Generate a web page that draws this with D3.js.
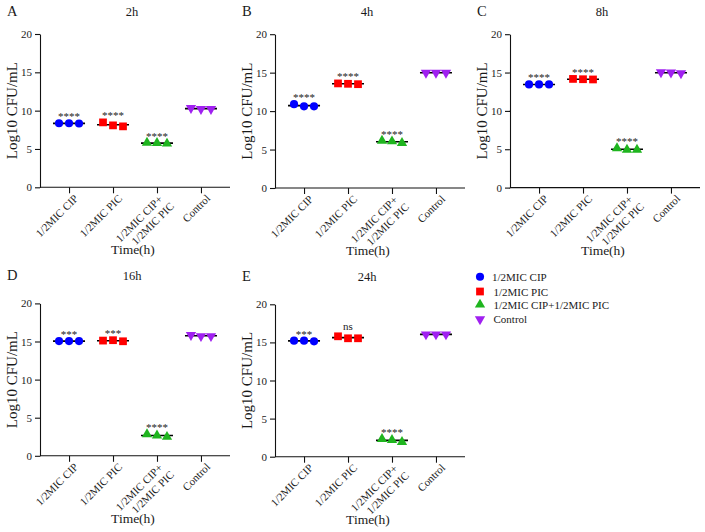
<!DOCTYPE html>
<html>
<head>
<meta charset="utf-8">
<script src="https://cdn.jsdelivr.net/npm/d3@7"></script>
<style>
  html, body { margin: 0; padding: 0; background: #fff; }
  svg text { font-family: "Liberation Serif", "Times New Roman", serif; fill: #1a1a1a; }
</style>
</head>
<body>
<svg id="chart" width="705" height="532"></svg>
<script>
// ---------- data ----------
const categories = ["1/2MIC CIP", "1/2MIC PIC", "1/2MIC CIP+1/2MIC PIC", "Control"];
const tickLabels = [["1/2MIC CIP"], ["1/2MIC PIC"], ["1/2MIC CIP+", "1/2MIC PIC"], ["Control"]];
const panelLetters = ["A", "B", "C", "D", "E"];
const panelTitles = ["2h", "4h", "8h", "16h", "24h"];
const yTicks = [0, 5, 10, 15, 20];

// replicate values (Log10 CFU/mL) per category, per time point
const values2h  = [[8.35, 8.35, 8.33], [8.47, 8.08, 7.95], [5.82, 5.78, 5.70], [10.35, 10.22, 10.22]];
const values4h  = [[10.90, 10.62, 10.62], [13.60, 13.55, 13.50], [6.15, 6.06, 5.86], [14.98, 14.98, 14.98]];
const values8h  = [[13.45, 13.45, 13.45], [14.17, 14.13, 14.10], [5.13, 4.93, 4.93], [15.04, 15.00, 14.90]];
const values16h = [[15.05, 15.05, 15.05], [15.12, 15.17, 15.03], [2.84, 2.67, 2.49], [15.84, 15.70, 15.70]];
const values24h = [[15.23, 15.23, 15.14], [15.80, 15.54, 15.54], [2.32, 2.19, 1.93], [16.05, 16.05, 16.05]];
const panelValues = [values2h, values4h, values8h, values16h, values24h];

const sig2h  = ["****", "****", "****", ""];
const sig4h  = ["****", "****", "****", ""];
const sig8h  = ["****", "****", "****", ""];
const sig16h = ["***", "***", "****", ""];
const sig24h = ["***", "ns", "****", ""];
const panelSig = [sig2h, sig4h, sig8h, sig16h, sig24h];

const seriesColors = ["#0000ff", "#ff0000", "#1fb51f", "#a020f0"];
const seriesSymbols = [d3.symbolCircle, d3.symbolSquare, d3.symbolTriangle, d3.symbolTriangle];
const seriesRotate = [0, 0, 0, 180];
const seriesSizes = [52, 60, 46, 46];

// ---------- layout ----------
const panelFrames = [
  { x0: 40,  x1: 230, yTop: 34,    yBot: 187.3, titleGap: 18 },
  { x0: 275, x1: 465, yTop: 34.2,  yBot: 188,   titleGap: 18 },
  { x0: 510, x1: 700, yTop: 34.2,  yBot: 187.6, titleGap: 18 },
  { x0: 40,  x1: 230, yTop: 303.4, yBot: 455.8, titleGap: 23 },
  { x0: 275, x1: 465, yTop: 304.3, yBot: 456.7, titleGap: 23 }
];

const svg = d3.select("#chart");

panelFrames.forEach((f, pi) => {
  const g = svg.append("g");
  const x = d3.scalePoint().domain(categories).range([f.x0, f.x1]).padding(0.66);
  const y = d3.scaleLinear().domain([0, 20]).range([f.yBot, f.yTop]);

  // y axis
  const yAxis = d3.axisLeft(y).tickValues(yTicks).tickSize(5).tickSizeOuter(0).tickPadding(3);
  const ya = g.append("g").attr("transform", `translate(${f.x0},0)`).call(yAxis);
  ya.attr("font-family", null).attr("font-size", null);
  ya.selectAll("text").style("font-size", "11px").attr("fill", "#1a1a1a");
  ya.selectAll("path,line").attr("stroke", "#111").attr("stroke-width", 1.1);

  // x axis
  const xAxis = d3.axisBottom(x).tickSize(6).tickSizeOuter(0).tickFormat(() => "");
  const xa = g.append("g").attr("transform", `translate(0,${f.yBot})`).call(xAxis);
  xa.selectAll("path,line").attr("stroke", "#111").attr("stroke-width", 1.1);
  xa.select("path.domain").attr("d", `M${f.x0},0H${f.x1}`);

  // rotated tick labels
  categories.forEach((c, ci) => {
    const lines = tickLabels[ci];
    const n = lines.length;
    const t = g.append("text")
      .attr("transform", `translate(${x(c) + 7},${f.yBot + 9}) rotate(-45)`)
      .attr("text-anchor", "end")
      .style("font-size", "11px");
    lines.forEach((ln, li) => {
      t.append("tspan")
        .attr("x", n > 1 && li === 0 ? -3 : 0)
        .attr("y", n > 1 ? (li === 0 ? 2 : 15) : 4)
        .text(ln);
    });
  });

  // titles
  g.append("text").attr("x", f.x0 - 33).attr("y", f.yTop - f.titleGap)
    .style("font-size", "14.5px").text(panelLetters[pi]);
  g.append("text").attr("x", (f.x0 + f.x1) / 2 - 3).attr("y", f.yTop - f.titleGap)
    .attr("text-anchor", "middle").style("font-size", "12.5px").text(panelTitles[pi]);
  g.append("text").attr("x", (f.x0 + f.x1) / 2 - 2).attr("y", f.yBot + 67)
    .attr("text-anchor", "middle").style("font-size", "13.5px").text("Time(h)");
  g.append("text")
    .attr("transform", `translate(${f.x0 - 23},${(f.yTop + f.yBot) / 2}) rotate(-90)`)
    .attr("text-anchor", "middle").style("font-size", "15px").text("Log10 CFU/mL");

  // data
  const vals = panelValues[pi];
  categories.forEach((c, ci) => {
    const reps = vals[ci];
    const cx = x(c);
    const mean = d3.mean(reps);
    g.append("line").attr("x1", cx - 16).attr("x2", cx + 16)
      .attr("y1", y(mean)).attr("y2", y(mean))
      .attr("stroke", "#000").attr("stroke-width", 1.6);
    reps.forEach((v, ri) => {
      g.append("path")
        .attr("d", d3.symbol().type(seriesSymbols[ci]).size(seriesSizes[ci])())
        .attr("transform", `translate(${cx + (ri - 1) * 10},${y(v)}) rotate(${seriesRotate[ci]})`)
        .attr("fill", seriesColors[ci]);
    });
    const s = panelSig[pi][ci];
    if (s) {
      g.append("text").attr("x", cx).attr("y", y(d3.max(reps)) - (s === "ns" ? 6 : 3))
        .attr("text-anchor", "middle")
        .style("font-size", "11px").text(s);
    }
  });
});

// ---------- legend ----------
const legend = svg.append("g");
const legendY = [276.7, 291.5, 304.6, 319.2];
categories.forEach((c, ci) => {
  legend.append("path")
    .attr("d", d3.symbol().type(seriesSymbols[ci]).size(seriesSizes[ci])())
    .attr("transform", `translate(480,${legendY[ci]}) rotate(${seriesRotate[ci]})`)
    .attr("fill", seriesColors[ci]);
  legend.append("text").attr("x", ci === 0 ? 492 : 493.5).attr("y", legendY[ci] + 4)
    .style("font-size", "11px").text(c);
});
</script>
</body>
</html>
